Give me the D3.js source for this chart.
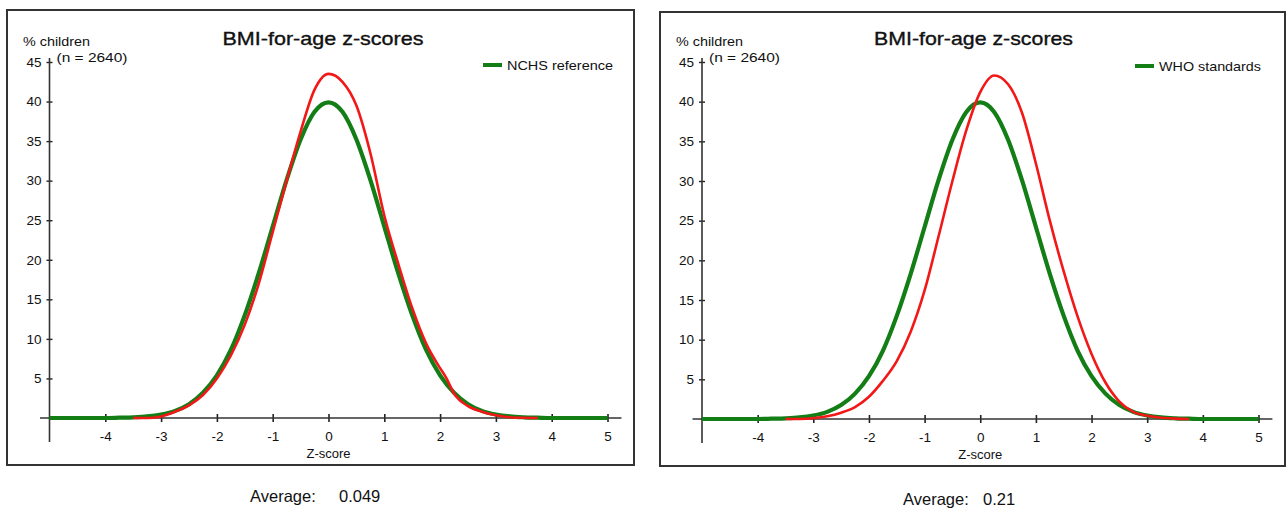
<!DOCTYPE html>
<html>
<head>
<meta charset="utf-8">
<script src="https://cdn.jsdelivr.net/npm/d3@7/dist/d3.min.js"></script>
<style>
  html, body { margin: 0; padding: 0; background: #fff; }
  svg { display: block; }
  text { font-family: "Liberation Sans", Arial, sans-serif; fill: #111; }
</style>
</head>
<body>
<svg id="chart" width="1287" height="512"></svg>
<script>
// Reference normal curve (shared by both panels): z-score and % children
const refZ = [-5, -4.5, -4, -3.75, -3.5, -3.25, -3, -2.75, -2.5, -2.25, -2, -1.75, -1.5, -1.25, -1, -0.75, -0.5, -0.25, 0,
              0.25, 0.5, 0.75, 1, 1.25, 1.5, 1.75, 2, 2.25, 2.5, 2.75, 3, 3.25, 3.5, 3.75, 4, 4.5, 5];
const refPct = [0, 0, 0, 0.04, 0.09, 0.2, 0.44, 0.9, 1.75, 3.2, 5.4, 8.6, 13.0, 18.3, 24.2, 30.1, 35.2, 38.7, 39.9,
                38.7, 35.2, 30.1, 24.2, 18.3, 13.0, 8.6, 5.4, 3.2, 1.75, 0.9, 0.44, 0.2, 0.09, 0.04, 0, 0, 0];

// Sample distribution against the NCHS reference
const nchsZ = [-3.5, -3.25, -3, -2.75, -2.5, -2.25, -2, -1.75, -1.5, -1.25, -1, -0.75, -0.5, -0.25, 0,
               0.25, 0.5, 0.75, 1, 1.25, 1.5, 1.75, 2, 2.1, 2.25, 2.5, 2.75, 3, 3.25, 3.5, 3.75];
const nchsPct = [0, 0, 0.2, 0.8, 1.6, 2.9, 5.0, 7.9, 11.8, 17.0, 23.5, 30.0, 36.2, 41.5, 43.5,
                 42.5, 39.5, 33.5, 25.6, 19.5, 13.9, 9.4, 6.3, 5.2, 3.1, 1.5, 0.8, 0.35, 0.1, 0.03, 0];

// Sample distribution against the WHO standards
const whoZ = [-3.5, -3.25, -3, -2.75, -2.5, -2.25, -2, -1.75, -1.5, -1.25, -1, -0.75, -0.5, -0.25, 0,
              0.25, 0.5, 0.75, 1, 1.25, 1.5, 1.75, 2, 2.25, 2.5, 2.75, 3, 3.25, 3.5, 3.75];
const whoPct = [0, 0, 0.1, 0.35, 0.8, 1.5, 2.8, 4.8, 7.3, 11.0, 16.2, 23.0, 30.0, 36.4, 41.2,
                43.3, 42.2, 38.6, 32.2, 25.0, 18.6, 12.9, 8.2, 4.6, 2.2, 0.9, 0.4, 0.15, 0.05, 0];

const xTicks = [-4, -3, -2, -1, 0, 1, 2, 3, 4, 5];
const yTicks = [5, 10, 15, 20, 25, 30, 35, 40, 45];
const titleText = "BMI-for-age z-scores";
const legendLabels = ["NCHS reference", "WHO standards"];
const averageValues = ["0.049", "0.21"];

const panels = [
  { frame: [7, 10, 634, 465], xr: [49.5, 607.5], yr: [418, 62], titleX: 222.5, titleW: 201,
    legX: 483, legY: 65, legW: 106, avgX: 250, avgValX: 339, avgY: 502,
    z: nchsZ, pct: nchsPct, legend: legendLabels[0], avg: averageValues[0] },
  { frame: [660, 12, 1285, 466], xr: [702, 1258.5], yr: [419, 62], titleX: 874, titleW: 199,
    legX: 1135, legY: 66, legW: 102, avgX: 903, avgValX: 983, avgY: 505,
    z: whoZ, pct: whoPct, legend: legendLabels[1], avg: averageValues[1] }
];

const svg = d3.select("#chart");
const red = "#f21818";
const green = "#137d16";
const plainNumber = d => String(d);

panels.forEach(p => {
  const g = svg.append("g");
  const [fx0, fy0, fx1, fy1] = p.frame;

  g.append("rect")
    .attr("x", fx0).attr("y", fy0)
    .attr("width", fx1 - fx0).attr("height", fy1 - fy0)
    .attr("fill", "#fff").attr("stroke", "#333").attr("stroke-width", 2);

  const x = d3.scaleLinear().domain([-5, 5]).range(p.xr);
  const y = d3.scaleLinear().domain([0, 45]).range(p.yr);

  // X axis with ticks crossing the line
  const xAxis = g.append("g")
    .attr("transform", `translate(0,${y(0)})`)
    .call(d3.axisBottom(x).tickValues(xTicks).tickFormat(plainNumber).tickSize(4).tickPadding(9).tickSizeOuter(0));
  xAxis.select(".domain").remove();
  xAxis.selectAll(".tick line").attr("y1", -4).attr("y2", 4).attr("stroke", "#222").attr("stroke-width", 1.6);
  xAxis.selectAll(".tick text").attr("font-size", 13.5).attr("font-family", "Liberation Sans, Arial, sans-serif").attr("fill", "#111");
  g.append("line")
    .attr("x1", x(-5.17)).attr("x2", x(5.25))
    .attr("y1", y(0)).attr("y2", y(0))
    .attr("stroke", "#333").attr("stroke-width", 1.6);

  // Y axis with ticks crossing the line
  const yAxis = g.append("g")
    .attr("transform", `translate(${x(-5)},0)`)
    .call(d3.axisLeft(y).tickValues(yTicks).tickFormat(plainNumber).tickSize(3).tickPadding(5).tickSizeOuter(0));
  yAxis.select(".domain").remove();
  yAxis.selectAll(".tick line").attr("x1", -3).attr("x2", 3).attr("stroke", "#222").attr("stroke-width", 1.4);
  yAxis.selectAll(".tick text").attr("font-size", 13.5).attr("font-family", "Liberation Sans, Arial, sans-serif").attr("fill", "#111");
  g.append("line")
    .attr("x1", x(-5)).attr("x2", x(-5))
    .attr("y1", y(45) - 4).attr("y2", y(0) + 24)
    .attr("stroke", "#333").attr("stroke-width", 1.6);

  // Axis titles
  g.append("text").attr("x", fx0 + 16).attr("y", 46)
    .attr("font-size", 13).attr("textLength", 67).attr("lengthAdjust", "spacingAndGlyphs")
    .text("% children");
  g.append("text").attr("x", x(-5) + 7).attr("y", 62)
    .attr("font-size", 13.5).attr("textLength", 71).attr("lengthAdjust", "spacingAndGlyphs")
    .text("(n = 2640)");
  g.append("text").attr("x", x(0)).attr("y", y(0) + 40)
    .attr("text-anchor", "middle").attr("font-size", 13)
    .text("Z-score");

  // Title
  g.append("text").attr("x", p.titleX).attr("y", 45)
    .attr("font-size", 18.5).attr("textLength", p.titleW).attr("lengthAdjust", "spacingAndGlyphs")
    .attr("stroke", "#111").attr("stroke-width", 0.35)
    .text(titleText);

  // Legend
  g.append("line")
    .attr("x1", p.legX).attr("x2", p.legX + 19)
    .attr("y1", p.legY).attr("y2", p.legY)
    .attr("stroke", green).attr("stroke-width", 4);
  g.append("text").attr("x", p.legX + 24).attr("y", p.legY + 5)
    .attr("font-size", 13).attr("textLength", p.legW).attr("lengthAdjust", "spacingAndGlyphs")
    .text(p.legend);

  // Curves
  const line = d3.line().curve(d3.curveMonotoneX)
    .x(d => x(d[0])).y(d => y(d[1]));

  g.append("path")
    .datum(refZ.map((z, i) => [z, refPct[i]]))
    .attr("d", line)
    .attr("fill", "none").attr("stroke", green).attr("stroke-width", 4.2)
    .attr("stroke-linejoin", "round");

  g.append("path")
    .datum(p.z.map((z, i) => [z, p.pct[i]]))
    .attr("d", line)
    .attr("fill", "none").attr("stroke", red).attr("stroke-width", 2.6)
    .attr("stroke-linejoin", "round");

  // Average beneath the panel
  g.append("text").attr("x", p.avgX).attr("y", p.avgY).attr("font-size", 16.5).text("Average:");
  g.append("text").attr("x", p.avgValX).attr("y", p.avgY).attr("font-size", 16.5).text(p.avg);
});
</script>
</body>
</html>
